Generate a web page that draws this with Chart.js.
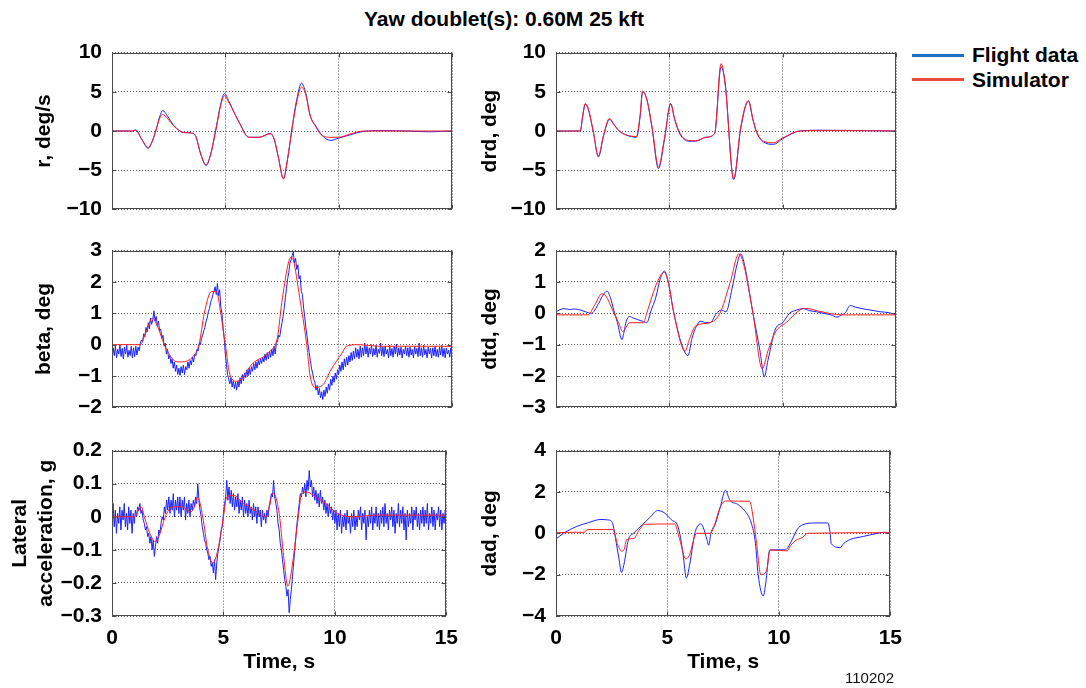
<!DOCTYPE html>
<html>
<head>
<meta charset="utf-8">
<script src="https://cdn.jsdelivr.net/npm/chart.js@4.4.0/dist/chart.umd.min.js"></script>
<style>
  body { margin: 0; width: 1086px; height: 688px; background: #fff; position: relative; overflow: hidden;
         font-family: 'Liberation Sans', Arial, Helvetica, sans-serif; }
  canvas { position: absolute; }
  #title { position: absolute; left: 0; width: 1008px; top: 8px; text-align: center;
           font-weight: bold; font-size: 21px; line-height: 21px; color: #000; }
  .leg-line { position: absolute; left: 912px; width: 52px; height: 3px; }
  .leg-text { position: absolute; left: 972px; font-weight: bold; font-size: 21px; line-height: 21px; color: #000; z-index: 2; }
  #figno { position: absolute; left: 794px; width: 100px; top: 670px; text-align: right; font-size: 15px; line-height: 15px; color: #111; }
</style>
</head>
<body>
<div id="title">Yaw doublet(s): 0.60M 25 kft</div>

<canvas id="c-r" width="468" height="202" style="left:0px;top:30px"></canvas>
<canvas id="c-drd" width="468" height="202" style="left:444px;top:30px"></canvas>
<canvas id="c-beta" width="468" height="202" style="left:0px;top:228px"></canvas>
<canvas id="c-dtd" width="468" height="202" style="left:444px;top:228px"></canvas>
<canvas id="c-ay" width="468" height="260" style="left:0px;top:428px"></canvas>
<canvas id="c-dad" width="468" height="260" style="left:444px;top:428px"></canvas>

<div class="leg-line" style="top:54px;background:#1f6fc4;z-index:2"></div>
<div class="leg-text" style="top:44px">Flight data</div>
<div class="leg-line" style="top:78px;background:#ee4d3d;z-index:2"></div>
<div class="leg-text" style="top:69px">Simulator</div>

<div id="figno">110202</div>

<script>
// ---- Data ----
const timeTicks = [0, 5, 10, 15];

// r, deg/s
const rTicks = [-10, -5, 0, 5, 10];
const rTime = [0, 0.9, 1.05, 1.3, 1.6, 1.75, 1.93, 2.1, 2.24, 2.45, 2.7, 3.0, 3.15, 3.5, 3.7, 3.9, 4.15, 4.35, 4.6, 4.8,
  4.96, 5.15, 5.45, 5.7, 5.9, 6.06, 6.5, 6.98, 7.15, 7.35, 7.56, 7.75, 7.95, 8.15, 8.36, 8.55, 8.74, 9.0, 9.28, 9.66,
  10.0, 10.5, 11.1, 12, 13, 14, 15];
const rFlight = [0, 0, 0.15, -1.0, -2.2, -1.5, 0, 1.8, 2.6, 1.9, 0.8, 0, -0.2, -0.25, -0.7, -2.8, -4.4, -3.0, 0.5, 3.5,
  4.8, 3.8, 2.0, 0.6, -0.5, -0.8, -0.8, -0.3, -1.0, -3.5, -6.1, -3.5, 0.5, 4.0, 6.1, 4.8, 2.0, 0.6, -0.6, -1.2,
  -0.9, -0.5, -0.05, 0.05, 0.0, -0.1, 0];
const rSim = [0, 0, 0.1, -1.0, -2.1, -1.5, 0, 1.6, 2.1, 1.6, 0.7, 0, -0.2, -0.25, -0.7, -2.8, -4.3, -3.0, 0.4, 3.3,
  4.5, 3.7, 2.0, 0.6, -0.5, -0.8, -0.8, -0.35, -1.0, -3.5, -6.1, -3.5, 0.4, 3.7, 5.6, 4.6, 2.0, 0.5, -0.6, -0.8,
  -0.8, -0.4, 0, 0, 0, 0, 0];

// drd, deg
const drdTicks = [-10, -5, 0, 5, 10];
const drdTime = [0, 1.07, 1.18, 1.29, 1.41, 1.64, 1.87, 2.1, 2.36, 2.56, 2.79, 3.09, 3.55, 3.71, 3.82, 4.01, 4.24, 4.52,
  4.78, 5.06, 5.24, 5.47, 5.85, 6.16, 6.62, 7.0, 7.28, 7.46, 7.84, 8.15, 8.49, 8.69, 8.84, 9.15, 9.6, 9.99, 10.76,
  11.67, 12.6, 15];
const drdFlight = [0, 0, 1.9, 3.4, 2.9, 0, -3.3, -0.6, 1.5, 0.8, 0, -0.5, -0.8, 1.8, 5.0, 4.0, 0.3, -4.8, -1.2, 3.5,
  1.4, -0.4, -1.3, -1.3, -0.8, -0.3, 8.2, 6.2, -6.2, 0.3, 3.8, 1.4, -0.1, -1.4, -1.7, -1.0, 0, 0.1, 0.08, 0];
const drdSim = [0, 0, 2.0, 3.5, 3.0, 0, -3.2, -0.5, 1.6, 0.8, 0, -0.5, -0.7, 2.0, 5.1, 4.0, 0.5, -4.6, -1.0, 3.4,
  1.5, -0.3, -1.2, -1.25, -0.8, -0.3, 8.6, 6.0, -6.1, 0.5, 3.9, 1.5, 0, -1.3, -1.5, -0.9, 0, 0.05, 0.05, 0];

// beta, deg (flight data sampled every 0.05 s, one row per second)
const betaTicks = [-2, -1, 0, 1, 2, 3];
const betaFlight = [
  -0.40, -0.10, -0.35, -0.05, -0.42, -0.15, -0.30, 0.00, -0.38, -0.12, -0.45, -0.08, -0.30, -0.02, -0.40, -0.18, -0.35, -0.05, -0.42, -0.10,
  -0.38, -0.05, -0.33, -0.08, -0.20, 0.05, 0.15, 0.10, 0.35, 0.25, 0.55, 0.40, 0.70, 0.50, 0.85, 0.65, 0.80, 1.08, 0.75, 0.90,
  0.60, 0.75, 0.45, 0.50, 0.20, 0.30, -0.05, 0.05, -0.30, -0.15, -0.45, -0.35, -0.60, -0.45, -0.75, -0.55, -0.85, -0.65, -0.95, -0.75,
  -0.98, -0.70, -0.90, -0.65, -0.95, -0.70, -0.80, -0.55, -0.75, -0.50, -0.65, -0.40, -0.55, -0.30, -0.35, -0.15, -0.20, 0.05, 0.00, 0.20,
  0.30, 0.45, 0.55, 0.75, 0.85, 1.05, 1.15, 1.35, 1.45, 1.60, 1.70, 1.85, 1.60, 1.95, 1.55, 1.75, 1.20, 1.00, 0.50, 0.20,
  -0.30, -0.65, -0.95, -1.10, -1.25, -1.05, -1.35, -1.15, -1.40, -1.20, -1.45, -1.15, -1.35, -1.05, -1.25, -0.95, -1.15, -0.90, -1.05, -0.80,
  -1.00, -0.75, -0.95, -0.70, -0.85, -0.60, -0.80, -0.55, -0.75, -0.50, -0.65, -0.45, -0.60, -0.40, -0.55, -0.30, -0.50, -0.25, -0.45, -0.20,
  -0.40, -0.15, -0.35, -0.05, -0.30, 0.05, 0.10, 0.30, 0.25, 0.50, 0.70, 0.90, 1.20, 1.50, 1.80, 2.10, 2.30, 2.60, 2.70, 2.85,
  2.95, 2.60, 2.75, 2.40, 2.55, 2.10, 2.20, 1.70, 1.60, 1.20, 0.90, 0.55, 0.30, 0.00, -0.25, -0.50, -0.75, -0.90, -1.10, -1.20,
  -1.45, -1.30, -1.60, -1.40, -1.70, -1.50, -1.75, -1.45, -1.65, -1.35, -1.55, -1.25, -1.45, -1.10, -1.30, -1.00, -1.20, -0.90, -1.10, -0.80,
  -0.95, -0.65, -0.85, -0.55, -0.80, -0.45, -0.70, -0.40, -0.65, -0.35, -0.55, -0.25, -0.50, -0.20, -0.45, -0.10, -0.40, -0.15, -0.45, -0.05,
  -0.40, -0.10, -0.35, 0.05, -0.30, -0.05, -0.40, -0.10, -0.30, 0.00, -0.38, -0.12, -0.33, -0.02, -0.40, -0.15, -0.28, 0.05, -0.35, -0.08,
  -0.38, -0.05, -0.30, -0.15, -0.42, -0.02, -0.35, -0.12, -0.40, -0.05, -0.30, 0.02, -0.38, -0.10, -0.33, -0.08, -0.42, -0.15, -0.30, -0.05,
  -0.35, -0.10, -0.40, -0.08, -0.33, -0.15, -0.42, -0.05, -0.30, -0.12, -0.38, 0.05, -0.35, -0.10, -0.40, -0.02, -0.32, -0.15, -0.42, -0.08,
  -0.30, -0.12, -0.42, -0.10, -0.35, -0.05, -0.38, -0.15, -0.40, -0.08, -0.33, -0.02, -0.38, -0.12, -0.42, -0.10, -0.30, -0.18, -0.40, -0.10,
  -0.30];
const betaSimTime = [0, 1.24, 1.5, 1.78, 2.0, 2.31, 2.77, 3.0, 3.54, 3.84, 4.07, 4.38, 4.6, 4.8, 5.0, 5.22, 5.53, 6.2,
  6.98, 7.29, 7.52, 7.9, 8.0, 8.28, 8.59, 8.74, 8.97, 9.28, 9.66, 10.12, 10.35, 10.8, 11.88, 15];
const betaSim = [0, 0, 0.4, 0.85, 0.6, 0, -0.52, -0.55, -0.4, 0, 1.0, 1.69, 1.7, 1.0, 0, -1.0, -1.17, -0.6,
  -0.2, 0.2, 1.5, 2.79, 2.7, 1.5, 0, -1.0, -1.36, -1.3, -0.8, -0.3, -0.05, 0, -0.05, -0.05];

// dtd, deg
const dtdTicks = [-3, -2, -1, 0, 1, 2];
const dtdFlightTime = [0, 0.34, 0.6, 0.8, 1.1, 1.3, 1.56, 1.87, 2.05, 2.25, 2.4, 2.55, 2.71, 2.91, 3.0, 3.1, 3.25,
  3.4, 3.6, 3.8, 4.0, 4.2, 4.4, 4.6, 4.78, 4.95, 5.2, 5.55, 5.82, 6.0, 6.2, 6.39, 6.6, 6.8, 7.08, 7.3, 7.5, 7.77,
  8.0, 8.15, 8.3, 8.5, 8.69, 9.0, 9.19, 9.35, 9.68, 10.0, 10.3, 10.6, 10.9, 11.2, 11.5, 11.8, 12.13, 12.4, 12.6,
  12.75, 12.98, 13.2, 13.5, 13.9, 14.3, 14.7, 15];
const dtdFlight = [0.05, 0.15, 0.12, 0.14, 0.1, 0.05, 0, 0.3, 0.55, 0.71, 0.5, 0.1, -0.3, -0.84, -0.6, -0.25, -0.1,
  -0.15, -0.2, -0.25, -0.3, 0.1, 0.5, 1.1, 1.35, 1.0, 0, -1.0, -1.35, -0.8, -0.4, -0.25, -0.3, -0.3, 0, 0.1, 0.05, 0.8,
  1.6, 1.9, 1.6, 0.8, 0, -1.2, -2.02, -1.5, -0.5, -0.3, 0, 0.1, 0.15, 0.08, 0.05, 0.0, -0.05, -0.12, -0.05,
  0, 0.25, 0.2, 0.15, 0.1, 0.05, 0.02, -0.05];
const dtdSimTime = [0, 1.41, 1.7, 2.02, 2.2, 2.5, 2.76, 2.94, 3.25, 3.86, 4.0, 4.47, 4.78, 4.95, 5.2, 5.7, 5.85, 6.16,
  6.77, 7.23, 7.69, 8.07, 8.3, 8.69, 9.1, 9.35, 9.68, 10.14, 10.98, 11.7, 12.6, 15];
const dtdSim = [-0.05, -0.05, 0.25, 0.62, 0.55, 0.1, -0.3, -0.58, -0.3, -0.3, 0, 1.0, 1.31, 1.0, 0, -1.21, -0.9, -0.4,
  -0.3, 0, 1.0, 1.9, 1.5, 0, -1.77, -1.2, -0.6, -0.3, 0.16, 0.05, -0.05, -0.05];

// Lateral acceleration, g (flight data sampled every 0.05 s, one row per second)
const ayTicks = [-0.3, -0.2, -0.1, 0, 0.1, 0.2];
const ayFlight = [
  0.00, 0.04, -0.03, 0.02, -0.05, 0.01, -0.02, 0.03, -0.04, 0.02, -0.01, 0.04, -0.03, 0.01, -0.04, 0.03, -0.02, 0.02, -0.05, 0.01,
  -0.02, 0.02, 0.00, 0.03, 0.02, 0.04, 0.01, 0.02, -0.01, -0.02, -0.04, -0.03, -0.06, -0.05, -0.08, -0.06, -0.10, -0.07, -0.12, -0.09,
  -0.06, -0.08, -0.04, -0.05, -0.02, 0.00, -0.01, 0.03, 0.01, 0.05, 0.02, 0.06, 0.01, 0.05, 0.02, 0.07, 0.00, 0.05, 0.02, 0.06,
  0.01, 0.06, 0.00, 0.05, 0.02, 0.06, -0.01, 0.04, 0.01, 0.05, 0.00, 0.04, 0.02, 0.05, 0.03, 0.06, 0.04, 0.10, 0.05, 0.02,
  0.00, -0.03, -0.05, -0.07, -0.08, -0.10, -0.11, -0.13, -0.12, -0.15, -0.14, -0.17, -0.13, -0.19, -0.14, -0.11, -0.09, -0.07, -0.04, -0.03,
  0.01, 0.04, 0.06, 0.11, 0.05, 0.09, 0.04, 0.08, 0.03, 0.07, 0.02, 0.06, 0.03, 0.07, 0.01, 0.05, 0.02, 0.06, 0.00, 0.05,
  0.01, 0.04, 0.00, 0.05, 0.01, 0.03, -0.01, 0.04, 0.00, 0.03, -0.02, 0.03, 0.00, 0.02, -0.03, 0.02, -0.01, 0.01, -0.02, 0.02,
  0.00, 0.03, 0.05, 0.07, 0.06, 0.11, 0.06, 0.04, 0.02, -0.02, -0.04, -0.08, -0.10, -0.13, -0.16, -0.19, -0.21, -0.24, -0.22, -0.29,
  -0.25, -0.22, -0.18, -0.14, -0.10, -0.06, -0.02, 0.01, 0.04, 0.07, 0.06, 0.09, 0.07, 0.10, 0.06, 0.11, 0.08, 0.14, 0.09, 0.11,
  0.06, 0.09, 0.05, 0.08, 0.04, 0.07, 0.03, 0.08, 0.04, 0.06, 0.02, 0.05, 0.01, 0.04, 0.00, 0.04, 0.01, 0.03, -0.01, 0.02,
  -0.02, 0.02, -0.04, 0.01, -0.03, 0.02, -0.05, 0.00, -0.03, 0.01, -0.04, 0.02, -0.02, 0.00, -0.05, 0.01, -0.03, 0.02, -0.04, 0.00,
  -0.03, 0.02, -0.01, 0.03, -0.04, 0.01, -0.02, 0.02, -0.07, 0.00, -0.03, 0.02, -0.02, 0.03, -0.04, 0.01, -0.02, 0.03, -0.03, 0.01,
  -0.04, 0.02, -0.02, 0.03, -0.03, 0.04, -0.02, 0.01, -0.04, 0.02, -0.01, 0.03, -0.03, 0.02, -0.05, 0.01, -0.02, 0.04, -0.03, 0.02,
  -0.02, 0.03, -0.04, 0.01, -0.07, 0.02, -0.03, 0.01, -0.02, 0.03, -0.04, 0.02, -0.01, 0.03, -0.03, 0.01, -0.04, 0.02, -0.02, 0.03,
  -0.03, 0.02, -0.02, 0.04, -0.04, 0.01, -0.02, 0.03, -0.03, 0.02, -0.04, 0.01, -0.01, 0.03, -0.03, 0.02, -0.04, 0.01, -0.02, 0.02,
  0.00];
const aySimTime = [0, 1.0, 1.32, 1.45, 1.7, 1.93, 2.1, 2.39, 2.7, 3.15, 3.54, 3.7, 3.84, 4.07, 4.3, 4.53, 4.75, 5.0,
  5.15, 5.45, 5.9, 6.37, 6.9, 7.06, 7.21, 7.35, 7.52, 7.67, 7.9, 8.08, 8.36, 8.51, 8.74, 9.13, 9.59, 10.12, 10.81,
  11.88, 15];
const aySim = [0, 0, 0.03, 0, -0.05, -0.075, -0.06, 0, 0.03, 0.03, 0.015, 0.03, 0.06, 0, -0.1, -0.14, -0.1, 0,
  0.06, 0.065, 0.04, 0.02, 0, 0.03, 0.071, 0.06, 0, -0.1, -0.21, -0.15, 0, 0.07, 0.075, 0.06, 0.04, 0.01, 0,
  0.005, 0.005];

// dad, deg
const dadTicks = [-4, -2, 0, 2, 4];
const dadFlightTime = [0, 0.34, 0.95, 1.41, 2.02, 2.3, 2.48, 2.56, 2.71, 2.82, 2.94, 3.05, 3.25, 3.48, 3.86, 4.24,
  4.55, 4.85, 5.24, 5.4, 5.55, 5.7, 5.85, 6.0, 6.23, 6.39, 6.5, 6.6, 6.77, 6.85, 6.95, 7.16, 7.38, 7.6, 7.8, 8.15,
  8.46, 8.76, 8.95, 9.07, 9.3, 9.4, 9.6, 10.29, 10.45, 10.6, 10.83, 11.06, 11.67, 12.2, 12.3, 12.35, 12.75, 12.9,
  13.2, 13.8, 14.43, 14.74, 15];
const dadFlight = [-0.28, 0, 0.34, 0.5, 0.67, 0.65, 0.6, 0.4, -0.5, -1.2, -1.89, -1.5, -0.3, 0, 0.4, 0.8,
  1.1, 1.0, 0.6, 0.5, 0, -1.0, -2.16, -1.5, 0, 0.4, 0.45, 0.3, -0.3, -0.58, 0, 0.5, 1.3, 2.08, 1.6, 1.4,
  1.1, 0.5, -0.5, -2.0, -3.03, -2.5, -0.8, -0.8, -0.6, -0.3, 0.2, 0.41, 0.5, 0.5, 0.0, -0.5, -0.69, -0.5,
  -0.3, -0.15, 0, 0.05, 0];
const dadSimTime = [0, 0.9, 1.26, 1.41, 2.56, 2.75, 2.94, 3.05, 3.17, 3.5, 3.7, 4.0, 5.32, 5.55, 5.82, 5.97, 6.31,
  6.93, 7.08, 7.38, 7.6, 8.69, 8.84, 9.0, 9.19, 9.45, 9.6, 10.37, 10.52, 10.75, 11.06, 11.29, 15];
const dadSim = [0.03, 0.05, 0.05, 0.18, 0.18, -0.5, -0.86, -0.8, -0.3, -0.25, 0.1, 0.44, 0.45, -0.3, -1.24, -1.1, 0,
  0, 0.3, 1.3, 1.56, 1.55, 0.8, -0.5, -2.0, -1.8, -0.81, -0.85, -0.6, -0.35, -0.2, 0, 0.03];

// ---- Helpers ----
const SAMPLE_DT = 0.05;
const FLIGHT_COLOR = '#1a22ff';
const SIM_COLOR = '#ff1e1e';
const FONT = { family: "'Liberation Sans', Arial, Helvetica, sans-serif", size: 21, weight: 'bold' };

const pairs = (t, v) => v.map((y, i) => ({ x: t[i], y }));
const sampled = v => v.map((y, i) => ({ x: i * SAMPLE_DT, y }));
const fmt = v => (Math.abs(v) < 1e-9 ? '0' : String(+v.toFixed(2))).replace('-', '\u2212');

// axes frame with small inward tick marks, like the original plots
const boxPlugin = {
  id: 'box',
  afterDraw(chart) {
    const a = chart.chartArea;
    const ctx = chart.ctx;
    const L = Math.round(a.left) + 0.5, T = Math.round(a.top) + 0.5;
    const R = Math.round(a.right) - 0.5, B = Math.round(a.bottom) - 0.5;
    ctx.save();
    ctx.strokeStyle = '#4a4a4a';
    ctx.lineWidth = 1;
    ctx.strokeRect(L, T, R - L, B - T);
    ctx.beginPath();
    chart.scales.x.ticks.forEach(t => {
      const x = Math.round(chart.scales.x.getPixelForValue(t.value)) + 0.5;
      ctx.moveTo(x, B); ctx.lineTo(x, B - 4);
      ctx.moveTo(x, T); ctx.lineTo(x, T + 4);
    });
    chart.scales.y.ticks.forEach(t => {
      const y = Math.round(chart.scales.y.getPixelForValue(t.value)) + 0.5;
      ctx.moveTo(L, y); ctx.lineTo(L + 4, y);
      ctx.moveTo(R, y); ctx.lineTo(R - 4, y);
    });
    ctx.stroke();
    ctx.restore();
  }
};

function makePanel(id, opts) {
  const bottomRow = !!opts.showTime;
  const gridOpts = { color: 'rgba(50,50,50,0.8)', lineWidth: 1, drawTicks: false };
  const borderOpts = { display: false, dash: [1, 2] };

  new Chart(document.getElementById(id), {
    type: 'line',
    data: {
      datasets: [
        { label: 'Flight data', data: opts.flight, borderColor: FLIGHT_COLOR, borderWidth: 1, pointRadius: 0,
          order: 2, tension: 0, cubicInterpolationMode: opts.flightSmooth ? 'monotone' : 'default' },
        { label: 'Simulator', data: opts.sim, borderColor: SIM_COLOR, borderWidth: 1, pointRadius: 0,
          order: 1, tension: 0, cubicInterpolationMode: 'monotone' }
      ]
    },
    options: {
      responsive: false,
      animation: false,
      devicePixelRatio: 1,
      events: [],
      layout: { padding: { left: 0, right: 16, top: 14, bottom: bottomRow ? 0 : 14 } },
      plugins: { legend: { display: false }, tooltip: { enabled: false } },
      scales: {
        x: {
          type: 'linear',
          min: timeTicks[0],
          max: timeTicks[timeTicks.length - 1],
          afterBuildTicks: s => { s.ticks = timeTicks.map(v => ({ value: v })); },
          afterFit: s => { s.height = bottomRow ? 72 : 0; },
          grid: gridOpts,
          border: borderOpts,
          ticks: { display: bottomRow, padding: 10, color: '#000', font: FONT, maxRotation: 0 },
          title: { display: bottomRow, text: 'Time, s', color: '#000', font: FONT, padding: { top: 0, bottom: 13 } }
        },
        y: {
          type: 'linear',
          min: opts.ticks[0],
          max: opts.ticks[opts.ticks.length - 1],
          afterBuildTicks: s => { s.ticks = opts.ticks.map(v => ({ value: v })); },
          afterFit: s => { s.width = 112; },
          grid: gridOpts,
          border: borderOpts,
          ticks: { padding: 10, color: '#000', font: FONT, callback: v => fmt(v) },
          title: { display: true, text: opts.label, color: '#000',
                   font: Object.assign({}, FONT, { lineHeight: 1.2 }), padding: { top: opts.titlePad, bottom: 0 } }
        }
      }
    },
    plugins: [boxPlugin]
  });
}

makePanel('c-r', { ticks: rTicks, label: 'r, deg/s', titlePad: 32,
  flight: pairs(rTime, rFlight), sim: pairs(rTime, rSim), flightSmooth: true });
makePanel('c-drd', { ticks: drdTicks, label: 'drd, deg', titlePad: 34,
  flight: pairs(drdTime, drdFlight), sim: pairs(drdTime, drdSim), flightSmooth: true });
makePanel('c-beta', { ticks: betaTicks, label: 'beta, deg', titlePad: 32,
  flight: sampled(betaFlight), sim: pairs(betaSimTime, betaSim), flightSmooth: false });
makePanel('c-dtd', { ticks: dtdTicks, label: 'dtd, deg', titlePad: 34,
  flight: pairs(dtdFlightTime, dtdFlight), sim: pairs(dtdSimTime, dtdSim), flightSmooth: true });
makePanel('c-ay', { ticks: ayTicks, label: ['Lateral', 'acceleration, g'], titlePad: 8,
  flight: sampled(ayFlight), sim: pairs(aySimTime, aySim), flightSmooth: false, showTime: true });
makePanel('c-dad', { ticks: dadTicks, label: 'dad, deg', titlePad: 34,
  flight: pairs(dadFlightTime, dadFlight), sim: pairs(dadSimTime, dadSim), flightSmooth: true, showTime: true });
</script>
</body>
</html>
